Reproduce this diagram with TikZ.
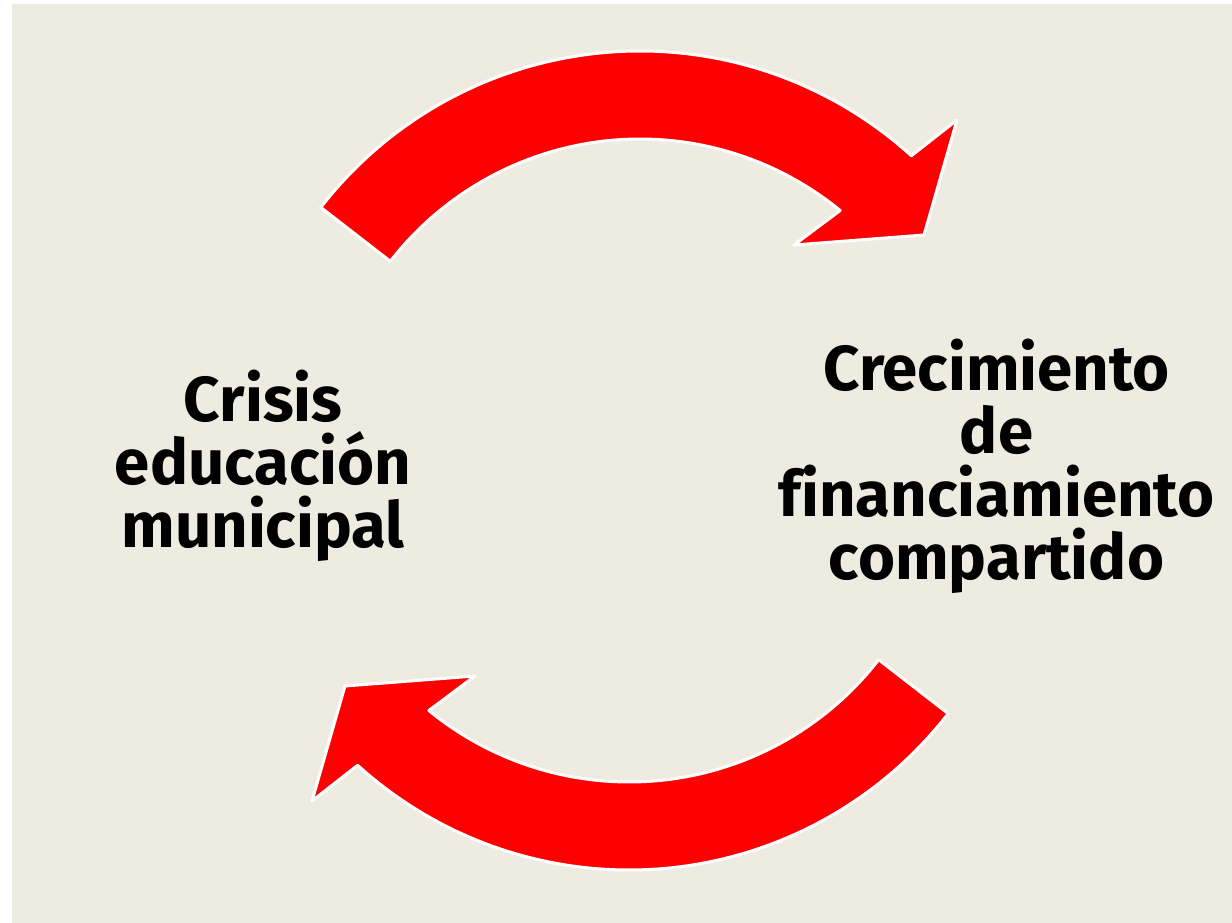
\documentclass[tikz,border=0pt]{standalone}
\usepackage{fontspec}
\setmainfont{Fira Sans}[Ligatures={NoCommon}]
\usetikzlibrary{calc}
\definecolor{bgbeige}{RGB}{238,236,225}
\definecolor{arrowred}{RGB}{255,0,0}
\tikzset{
  cyclearrow/.style={fill=arrowred, draw=white, line width=3pt, line join=round},
  bigtext/.style={align=center, inner sep=0pt, font=\bfseries\fontsize{63.5}{63}\selectfont, text=black}
}
\begin{document}
\begin{tikzpicture}[x=1pt,y=-1pt]
\useasboundingbox (0,0) rectangle (1232,923);
\fill[bgbeige] (12,4) rectangle (1232,923);
% top arrow
\coordinate (C) at (640,455);
\coordinate (tOB) at (957,120);
\coordinate (tTip) at (924,235);
\coordinate (tIB) at (794,245);
\draw[cyclearrow] (C) ++(-142.2:404) arc[start angle=-142.2, end angle=-47.8, radius=404]
  -- (tOB) -- (tTip) -- (tIB) -- ($(C)+(-50.7:316)$)
  arc[start angle=-50.7, end angle=-142.2, radius=316] -- cycle;
% bottom arrow (same shape turned half round)
\begin{scope}[rotate around={180:(634.5,460.5)}]
\coordinate (C2) at (640,455);
\coordinate (bOB) at (957,120);
\coordinate (bTip) at (924,235);
\coordinate (bIB) at (794,245);
\draw[cyclearrow] (C2) ++(-142.2:404) arc[start angle=-142.2, end angle=-47.8, radius=404]
  -- (bOB) -- (bTip) -- (bIB) -- ($(C2)+(-50.7:316)$)
  arc[start angle=-50.7, end angle=-142.2, radius=316] -- cycle;
\end{scope}
\node[bigtext] (left) at (263,466) {Crisis\\educación\\municipal};
\node[bigtext] (right) at (996.5,466) {Crecimiento\\de\\financiamiento\\compartido};
\end{tikzpicture}
\end{document}
